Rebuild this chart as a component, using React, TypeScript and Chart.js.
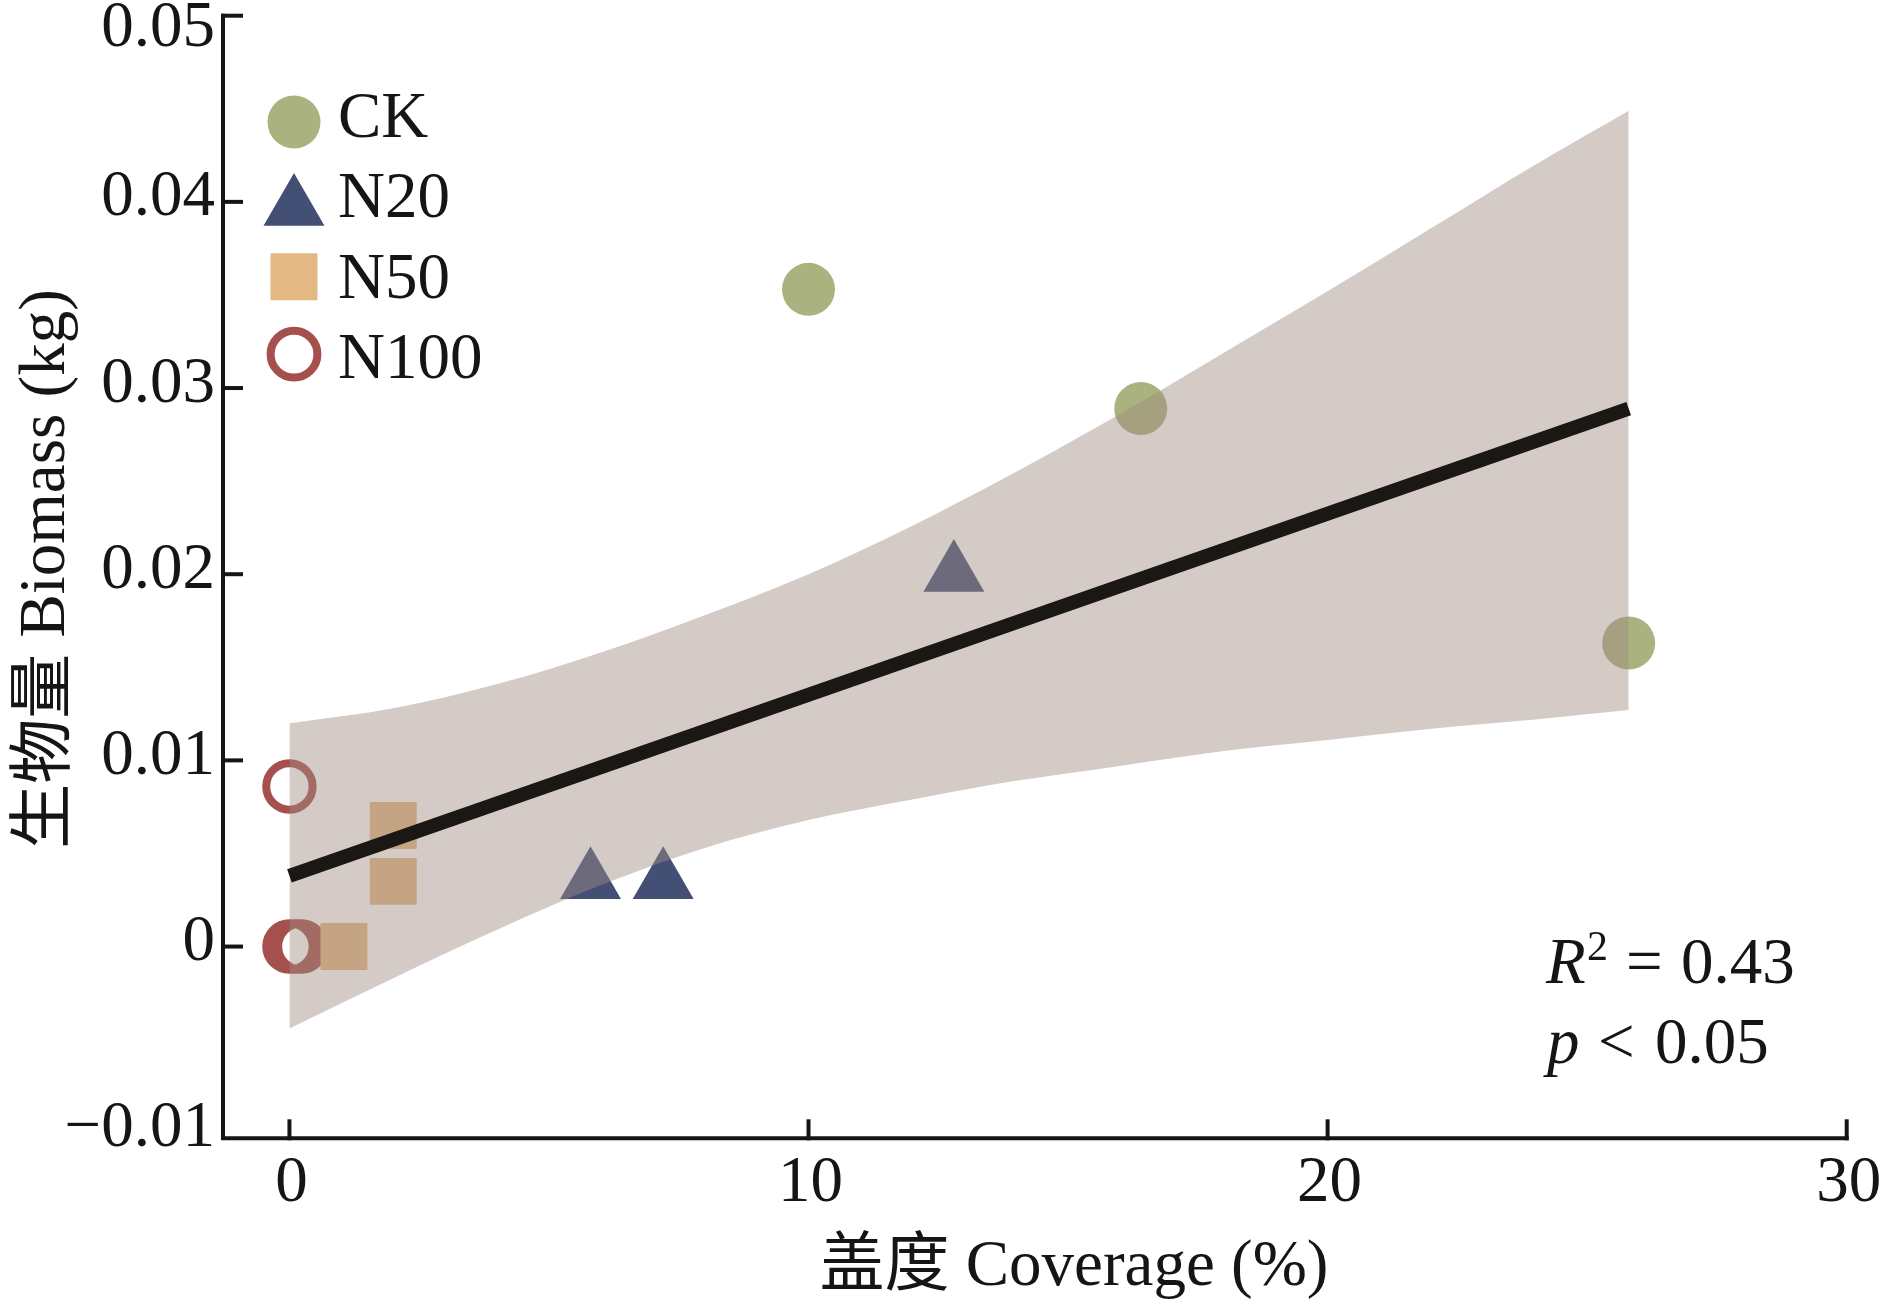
import { useEffect, useRef } from 'react';
import { Chart, registerables } from 'chart.js';
import { drawPoint } from 'chart.js/helpers';

Chart.register(...registerables);

// treatment groups (legend order)
const groups = ['CK', 'N20', 'N50', 'N100'];

// observed points, coverage (%) vs biomass (kg)
const ckX = [10.0, 16.4, 25.8];
const ckY = [0.0353, 0.0289, 0.0163];
const n20X = [5.8, 7.2, 12.8];
const n20Y = [0.0035, 0.0035, 0.02];
const n50X = [1.05, 2.0, 2.0];
const n50Y = [0.0, 0.0035, 0.0065];
const n100X = [0.0, 0.0, 0.12, 0.23];
const n100Y = [0.0086, 0.0, 0.0, 0.0];

// fitted line and its confidence band
const fitX = [0, 25.8];
const fitY = [0.0038, 0.0289];
const bandX = [0, 2, 4, 6, 8, 10, 12, 14, 16, 18, 20, 22, 24, 25.8];
const bandUpper = [0.012, 0.0128, 0.0141, 0.0158, 0.0178, 0.02, 0.0226, 0.0255, 0.0286, 0.0319, 0.0352, 0.0386, 0.042, 0.0449];
const bandLower = [-0.0044, -0.0017, 0.0009, 0.0033, 0.0053, 0.0068, 0.0079, 0.0089, 0.0097, 0.0105, 0.0111, 0.0117, 0.0122, 0.0127];

// axis ticks
const xTicks = [0, 10, 20, 30];
const xTickLabels = ['0', '10', '20', '30'];
const yTicks = [0.05, 0.04, 0.03, 0.02, 0.01, 0, -0.01];
const yTickLabels = ['0.05', '0.04', '0.03', '0.02', '0.01', '0', '\u22120.01'];

const xTitle = '盖度 Coverage (%)';
const yTitle = '生物量 Biomass (kg)';
const r2Value = '0.43';
const pValue = '0.05';

const INK = '#151515';
const FONT = '"Liberation Serif", "Times New Roman", "Noto Sans CJK SC", serif';

const pts = (xs: number[], ys: number[]) => xs.map((x, i) => ({ x, y: ys[i] }));

const axesPlugin = {
  id: 'paperAxes',
  afterDraw(chart: any) {
    const { ctx, chartArea: a, scales } = chart;
    const x = scales.x;
    const y = scales.y;
    ctx.save();
    ctx.strokeStyle = INK;
    ctx.lineWidth = 4;
    ctx.lineCap = 'butt';

    // axis lines
    ctx.beginPath();
    ctx.moveTo(a.left, a.top - 2);
    ctx.lineTo(a.left, a.bottom + 2);
    ctx.moveTo(a.left - 2, a.bottom);
    ctx.lineTo(a.right + 2, a.bottom);
    ctx.stroke();

    ctx.fillStyle = INK;
    ctx.font = `65px ${FONT}`;

    // y ticks (inward) + labels
    ctx.textAlign = 'right';
    ctx.textBaseline = 'alphabetic';
    yTicks.forEach((v, i) => {
      const py = y.getPixelForValue(v);
      if (py < a.bottom - 8) {
        ctx.beginPath();
        ctx.moveTo(a.left - 2, py);
        ctx.lineTo(a.left + 20, py);
        ctx.stroke();
      }
      ctx.fillText(yTickLabels[i], 215, Math.max(py + 13.5, 46));
    });

    // x ticks (inward) + labels
    ctx.textAlign = 'center';
    xTicks.forEach((v, i) => {
      const px = x.getPixelForValue(v);
      ctx.beginPath();
      ctx.moveTo(px, a.bottom + 2);
      ctx.lineTo(px, a.bottom - 19);
      ctx.stroke();
      ctx.fillText(xTickLabels[i], px + 2, 1201);
    });

    // axis titles
    ctx.fillText(xTitle, 1074, 1285);
    ctx.save();
    ctx.translate(64, 569);
    ctx.rotate(-Math.PI / 2);
    ctx.fillText(yTitle, 0, 0);
    ctx.restore();

    ctx.restore();
  },
};

const legendPlugin = {
  id: 'paperLegend',
  afterDraw(chart: any) {
    const { ctx } = chart;
    ctx.save();
    ctx.font = `65px ${FONT}`;
    ctx.textAlign = 'left';
    ctx.textBaseline = 'alphabetic';
    groups.forEach((name, i) => {
      const ds = chart.data.datasets.find((d: any) => d.label === name);
      if (!ds) return;
      const cy = 122 + i * 77.4;
      const style = ds.pointStyle;
      const ring = style === 'circle' && ds.pointBorderWidth > 0;
      const radius = ring ? 23.4 : ds.pointRadius;
      const bw = ring ? 8 : 0;
      const yy = style === 'triangle' ? cy + radius * 0.25 : cy;
      ctx.fillStyle = ds.pointBackgroundColor;
      ctx.strokeStyle = ds.pointBorderColor;
      ctx.lineWidth = bw;
      drawPoint(ctx, { pointStyle: style, rotation: 0, radius, borderWidth: bw }, 294, yy);
      ctx.fillStyle = INK;
      ctx.fillText(name, 338, 137 + i * 80.3);
    });
    ctx.restore();
  },
};

const notePlugin = {
  id: 'fitNote',
  afterDraw(chart: any) {
    const { ctx } = chart;
    ctx.save();
    ctx.fillStyle = INK;
    ctx.textAlign = 'left';
    ctx.textBaseline = 'alphabetic';
    ctx.font = `italic 65px ${FONT}`;
    ctx.fillText('R', 1546, 983);
    ctx.fillText('p', 1547, 1063);
    ctx.font = `42px ${FONT}`;
    ctx.fillText('2', 1587, 960);
    ctx.font = `65px ${FONT}`;
    ctx.fillText('=', 1626, 983);
    ctx.fillText(r2Value, 1681, 983);
    ctx.fillText('<', 1598, 1063);
    ctx.fillText(pValue, 1655, 1063);
    ctx.restore();
  },
};

export default function App() {
  const canvasRef = useRef<HTMLCanvasElement>(null);
  const chartRef = useRef<Chart | null>(null);

  useEffect(() => {
    document.body.style.margin = '0';
    if (!canvasRef.current) return;
    if (chartRef.current) chartRef.current.destroy();

    const marker = (color: string) => ({
      pointBackgroundColor: color,
      pointBorderColor: color,
      pointBorderWidth: 0,
      pointHoverRadius: 0,
      order: 2,
    });

    chartRef.current = new Chart(canvasRef.current, {
      type: 'scatter',
      data: {
        datasets: [
          {
            type: 'line',
            label: 'fit',
            data: pts(fitX, fitY),
            borderColor: '#1b1714',
            borderWidth: 14,
            borderCapStyle: 'butt',
            pointRadius: 0,
            order: 0,
          },
          {
            type: 'line',
            label: 'upper',
            data: pts(bandX, bandUpper),
            borderColor: 'rgba(0,0,0,0)',
            borderWidth: 0,
            backgroundColor: 'rgba(159,139,131,0.45)',
            fill: '+1',
            pointRadius: 0,
            cubicInterpolationMode: 'monotone',
            order: 1,
          },
          {
            type: 'line',
            label: 'lower',
            data: pts(bandX, bandLower),
            borderColor: 'rgba(0,0,0,0)',
            borderWidth: 0,
            fill: false,
            pointRadius: 0,
            cubicInterpolationMode: 'monotone',
            order: 1,
          },
          {
            label: 'CK',
            data: pts(ckX, ckY),
            pointStyle: 'circle',
            pointRadius: 26.5,
            ...marker('#aab27f'),
          },
          {
            label: 'N20',
            data: pts(n20X, n20Y),
            pointStyle: 'triangle',
            pointRadius: 35.2,
            ...marker('#434f75'),
          },
          {
            label: 'N50',
            data: pts(n50X, n50Y),
            pointStyle: 'rect',
            pointRadius: 33.2,
            ...marker('#e2b982'),
          },
          {
            label: 'N100',
            data: pts(n100X, n100Y),
            pointStyle: 'circle',
            pointRadius: 23.2,
            pointBackgroundColor: 'rgba(0,0,0,0)',
            pointBorderColor: '#a5504c',
            pointBorderWidth: 8,
            pointHoverRadius: 0,
            order: 2,
          },
        ] as any,
      },
      options: {
        animation: false,
        responsive: true,
        maintainAspectRatio: false,
        events: [],
        layout: { autoPadding: false, padding: { left: 223, top: 15.7, right: 37.3, bottom: 163.7 } },
        scales: {
          x: { type: 'linear', min: -1.28, max: 30, display: false },
          y: { type: 'linear', min: -0.0103, max: 0.05, display: false },
        },
        plugins: { legend: { display: false }, tooltip: { enabled: false } },
      },
      plugins: [axesPlugin, legendPlugin, notePlugin],
    });

    return () => chartRef.current?.destroy();
  }, []);

  return (
    <div style={{ position: 'relative', width: 1884, height: 1302, background: '#fff' }}>
      <canvas ref={canvasRef} />
    </div>
  );
}
